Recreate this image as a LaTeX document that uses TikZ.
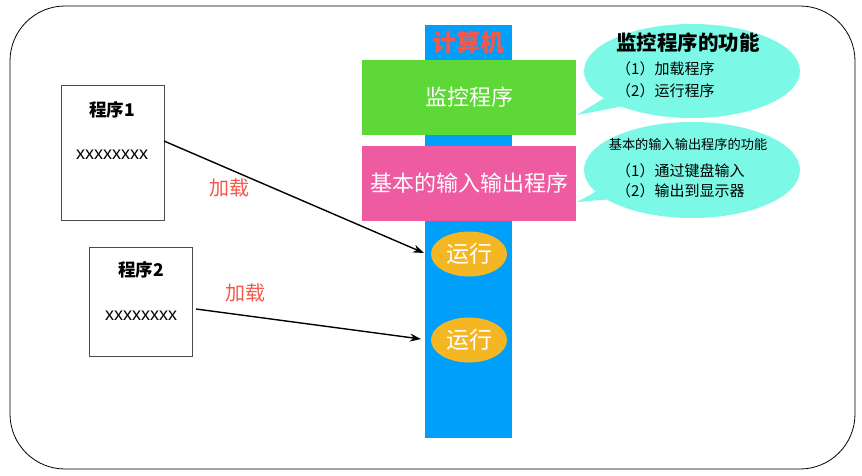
\documentclass[tikz,border=0pt]{standalone}
\usepackage{fontspec}
\setmainfont{Noto Sans CJK SC}
\newfontfamily\latinsans{Liberation Sans}
\usetikzlibrary{arrows.meta,shapes.geometric}
\definecolor{colblue}{HTML}{00A0FA}
\definecolor{colgreen}{HTML}{5ED836}
\definecolor{colpink}{HTML}{EE5BA0}
\definecolor{colorange}{HTML}{F5B624}
\definecolor{colcyan}{HTML}{7BF9E6}
\definecolor{colred}{HTML}{F2594A}
\tikzset{
  x=1pt,y=-1pt,
  progbox/.style={draw=black!70,line width=0.8pt,fill=white},
  modbox/.style={minimum width=214pt,minimum height=75pt,inner sep=0pt,text=white,font=\fontsize{22}{26}\selectfont},
  runnode/.style={ellipse,fill=colorange,minimum width=76pt,minimum height=45pt,inner sep=0pt,text=white,font=\fontsize{23}{26}\selectfont},
  loadlabel/.style={text=colred,font=\fontsize{20}{23}\selectfont},
  arr/.style={-{Stealth[length=11pt,width=8pt]},line width=1.4pt},
  bubble/.style={fill=colcyan},
  txt/.style={inner sep=0pt},
  xtxt/.style={inner sep=0pt,font=\latinsans\fontsize{18}{20}\selectfont},
  itemtxt/.style={inner sep=0pt,anchor=west,font=\fontsize{15}{18}\selectfont},
}
\begin{document}
\begin{tikzpicture}
\useasboundingbox (0,0) rectangle (862,475);
% outer frame
\draw[line width=0.8pt,rounded corners=55pt] (10,6) rectangle (855,469);
% computer column
\fill[colblue] (425,25) rectangle (512,438);
\node[txt,text=colred,font=\bfseries\fontsize{24}{27}\selectfont] (comp) at (468,42) {计算机};
\node[modbox,fill=colgreen] (mon) at (469,97) {监控程序};
\node[modbox,fill=colpink] (io) at (469,183) {基本的输入输出程序};
\node[runnode] (run1) at (469,254) {运行};
\node[runnode] (run2) at (469,340) {运行};
% programs
\draw[progbox] (61,85) rectangle (164,220);
\node[txt,font=\bfseries\fontsize{17.5}{20}\selectfont] (p1t) at (112,110) {程序1};
\node[xtxt] (p1x) at (112,155) {xxxxxxxx};
\coordinate (p1e) at (164,141);
\draw[progbox] (89,247) rectangle (192,356);
\node[txt,font=\bfseries\fontsize{17.5}{20}\selectfont] (p2t) at (141,270) {程序2};
\node[xtxt] (p2x) at (141,316) {xxxxxxxx};
\coordinate (p2e) at (196,309);
% arrows
\coordinate (a1) at (424,253);
\coordinate (a2) at (421,339);
\draw[arr] (p1e) -- (a1);
\draw[arr] (p2e) -- (a2);
\node[loadlabel] (l1) at (229,188) {加载};
\node[loadlabel] (l2) at (245,293) {加载};
% bubbles
\fill[bubble] (577,115) -- (606,97) -- (624,106) -- cycle;
\fill[bubble] (692,71) ellipse [x radius=108, y radius=47];
\fill[bubble] (577,202) -- (606,186) -- (624,198) -- cycle;
\fill[bubble] (692,170) ellipse [x radius=108, y radius=48];
\node[txt,font=\bfseries\fontsize{20.5}{23}\selectfont] (b1t) at (688,43) {监控程序的功能};
\node[itemtxt] (b1a) at (616,69) {（1）加载程序};
\node[itemtxt] (b1b) at (616,91) {（2）运行程序};
\node[txt,font=\fontsize{13.2}{15}\selectfont] (b2t) at (688,144) {基本的输入输出程序的功能};
\node[itemtxt] (b2a) at (616,171) {（1）通过键盘输入};
\node[itemtxt] (b2b) at (616,191) {（2）输出到显示器};
\end{tikzpicture}
\end{document}
